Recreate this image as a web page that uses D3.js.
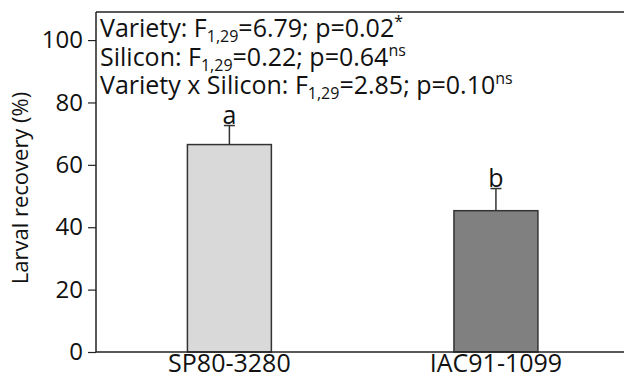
<!DOCTYPE html>
<html>
<head>
<meta charset="utf-8">
<script src="https://cdn.jsdelivr.net/npm/d3@7"></script>
<style>
  body { margin: 0; background: #fff; }
  text { font-family: "Open Sans", sans-serif; fill: #111; }
</style>
</head>
<body>
<svg id="chart" width="624" height="376"></svg>
<script>
// data
var varieties = ["SP80-3280", "IAC91-1099"];
var recovery = [66.5, 45.3];
var errTop = [72.6, 52.4];
var letters = ["a", "b"];
var barColors = ["#d9d9d9", "#808080"];
var yTicks = [0, 20, 40, 60, 80, 100];

// stats text: [label, subscript, value, superscript]
var statsLines = [
  ["Variety: F", "1,29", "=6.79; p=0.02", "*"],
  ["Silicon: F", "1,29", "=0.22; p=0.64", "ns"],
  ["Variety x Silicon: F", "1,29", "=2.85; p=0.10", "ns"]
];

var svg = d3.select("#chart");
var mLeft = 96, mRight = 624, mTop = 12, mBottom = 352;

var x = d3.scaleBand()
    .domain(varieties)
    .range([mLeft, mRight])
    .paddingInner(0.685)
    .paddingOuter(0.333)
    .align(0.515);

var y = d3.scaleLinear()
    .domain([0, 109])
    .range([mBottom, mTop]);

// top frame line
svg.append("line")
    .attr("x1", mLeft).attr("x2", mRight)
    .attr("y1", mTop).attr("y2", mTop)
    .attr("stroke", "#222").attr("stroke-width", 1.5);

// bars
svg.selectAll(".bar")
    .data(varieties)
    .enter().append("rect")
    .attr("class", "bar")
    .attr("x", function(d) { return x(d); })
    .attr("width", x.bandwidth())
    .attr("y", function(d, i) { return y(recovery[i]); })
    .attr("height", function(d, i) { return y(0) - y(recovery[i]); })
    .attr("fill", function(d, i) { return barColors[i]; })
    .attr("stroke", "#333")
    .attr("stroke-width", 1.5);

// error bars (upper only)
var capW = 11;
varieties.forEach(function(d, i) {
    var cx = x(d) + x.bandwidth() / 2;
    svg.append("line")
        .attr("x1", cx).attr("x2", cx)
        .attr("y1", y(recovery[i])).attr("y2", y(errTop[i]))
        .attr("stroke", "#333").attr("stroke-width", 1.5);
    svg.append("line")
        .attr("x1", cx - capW / 2).attr("x2", cx + capW / 2)
        .attr("y1", y(errTop[i])).attr("y2", y(errTop[i]))
        .attr("stroke", "#333").attr("stroke-width", 1.5);
    svg.append("text")
        .attr("x", cx)
        .attr("y", y(errTop[i]) - 2)
        .attr("text-anchor", "middle")
        .style("font-size", "25px")
        .text(letters[i]);
});

// y axis
var yAxis = svg.append("g")
    .attr("transform", "translate(" + mLeft + ",0)")
    .call(d3.axisLeft(y).tickValues(yTicks).tickSize(8).tickPadding(5).tickSizeOuter(0));
yAxis.select(".domain").attr("stroke", "#222").attr("stroke-width", 1.5)
    .attr("d", "M0," + mTop + "V" + mBottom);
yAxis.selectAll(".tick line").attr("stroke", "#222").attr("stroke-width", 1.2);
yAxis.selectAll(".tick text")
    .style("font-family", "Open Sans, sans-serif")
    .style("font-size", "24px")
    .attr("fill", "#111");

// x axis line + labels
var xAxis = svg.append("g")
    .attr("transform", "translate(0," + mBottom + ")")
    .call(d3.axisBottom(x).tickSize(0).tickPadding(2).tickSizeOuter(0));
xAxis.select(".domain").attr("stroke", "#222").attr("stroke-width", 1.5)
    .attr("d", "M" + mLeft + ",0H" + mRight);
xAxis.selectAll(".tick text")
    .style("font-family", "Open Sans, sans-serif")
    .style("font-size", "25px")
    .attr("fill", "#111");

// y label
svg.append("text")
    .attr("transform", "translate(28,188) rotate(-90)")
    .attr("text-anchor", "middle")
    .style("font-size", "22px")
    .text("Larval recovery (%)");

// stats annotation
var lineY = [37, 65.5, 94];
statsLines.forEach(function(s, i) {
    var t = svg.append("text")
        .attr("x", 100)
        .attr("y", lineY[i])
        .style("font-size", "25px");
    t.append("tspan").text(s[0]);
    t.append("tspan").attr("dy", 5).style("font-size", "16px").text(s[1]);
    t.append("tspan").attr("dy", -5).text(s[2]);
    t.append("tspan").attr("dy", -10).style("font-size", "16px").text(s[3]);
});
</script>
</body>
</html>
